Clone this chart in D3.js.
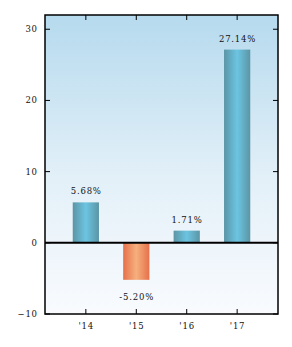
<!DOCTYPE html>
<html>
<head>
<meta charset="utf-8">
<script src="https://cdn.jsdelivr.net/npm/d3@7"></script>
<style>
  body { margin: 0; background: #fff; }
  text { font-family: "DejaVu Serif", serif; fill: #111; letter-spacing: 0.8px; }
</style>
</head>
<body>
<svg id="chart" width="292" height="347"></svg>
<script>
// dados
const years = ["'14", "'15", "'16", "'17"];
const returns = [5.68, -5.20, 1.71, 27.14];
const yTicks = [-10, 0, 10, 20, 30];

const W = 292, H = 347;
const margin = { top: 15, right: 14, bottom: 33, left: 45 };
const LS = 0.8; // letter-spacing, para compensar o alinhamento

const $svg = d3.select('#chart');
const defs = $svg.append('defs');

// fundo em degradê vertical
const bg = defs.append('linearGradient').attr('id', 'bg')
  .attr('x1', 0).attr('y1', 0).attr('x2', 0).attr('y2', 1);
bg.append('stop').attr('offset', '0%').attr('stop-color', '#b6daee');
bg.append('stop').attr('offset', '55%').attr('stop-color', '#e3f0f8');
bg.append('stop').attr('offset', '100%').attr('stop-color', '#f9fbfe');

// barras com degradê horizontal
function barGrad(id, edge, mid) {
  const g = defs.append('linearGradient').attr('id', id)
    .attr('x1', 0).attr('y1', 0).attr('x2', 1).attr('y2', 0);
  g.append('stop').attr('offset', '0%').attr('stop-color', edge);
  g.append('stop').attr('offset', '50%').attr('stop-color', mid);
  g.append('stop').attr('offset', '100%').attr('stop-color', edge);
}
barGrad('pos', '#5b95a5', '#6cc5e2');
barGrad('neg', '#e6704a', '#f6b07e');

const x = d3.scaleLinear().domain([-0.81, 3.81])
  .range([margin.left, W - margin.right]);
const y = d3.scaleLinear().domain([-10, 32])
  .range([H - margin.bottom, margin.top]);

const x0 = margin.left, x1 = W - margin.right;
const y0 = margin.top, y1 = H - margin.bottom;

$svg.append('rect')
  .attr('x', x0).attr('y', y0)
  .attr('width', x1 - x0).attr('height', y1 - y0)
  .attr('fill', 'url(#bg)');

const bw = x(0.26) - x(-0.26);

$svg.selectAll('rect.bar')
  .data(returns)
  .enter()
  .append('rect')
  .attr('class', 'bar')
  .attr('x', (d, i) => x(i) - bw / 2)
  .attr('y', d => y(Math.max(d, 0)))
  .attr('width', bw)
  .attr('height', d => Math.abs(y(d) - y(0)))
  .attr('fill', d => d >= 0 ? 'url(#pos)' : 'url(#neg)');

// rótulos das barras
$svg.selectAll('text.val')
  .data(returns)
  .enter()
  .append('text')
  .attr('class', 'val')
  .attr('x', (d, i) => x(i) + LS / 2)
  .attr('y', d => d >= 0 ? y(d) - 8 : y(d) + 20)
  .attr('text-anchor', 'middle')
  .attr('font-size', 8.5)
  .text(d => d.toFixed(2) + '%');

// linha do zero
$svg.append('line')
  .attr('x1', x0).attr('x2', x1)
  .attr('y1', y(0)).attr('y2', y(0))
  .attr('stroke', '#000').attr('stroke-width', 2);

// ticks internos
const tl = 5;
yTicks.forEach(t => {
  $svg.append('line').attr('x1', x0).attr('x2', x0 + tl)
    .attr('y1', y(t)).attr('y2', y(t)).attr('stroke', '#000');
  $svg.append('line').attr('x1', x1).attr('x2', x1 - tl)
    .attr('y1', y(t)).attr('y2', y(t)).attr('stroke', '#000');
  $svg.append('text')
    .attr('x', x0 - 8 + LS).attr('y', y(t) + 3)
    .attr('text-anchor', 'end')
    .attr('font-size', 8.5)
    .text(t < 0 ? '\u2212' + Math.abs(t) : t);
});

years.forEach((lbl, i) => {
  $svg.append('line').attr('x1', x(i)).attr('x2', x(i))
    .attr('y1', y0).attr('y2', y0 + tl).attr('stroke', '#000');
  $svg.append('line').attr('x1', x(i)).attr('x2', x(i))
    .attr('y1', y1).attr('y2', y1 - tl).attr('stroke', '#000');
  $svg.append('text')
    .attr('x', x(i) + LS / 2).attr('y', y1 + 15)
    .attr('text-anchor', 'middle')
    .attr('font-size', 8.5)
    .text(lbl);
});

// moldura
$svg.append('rect')
  .attr('x', x0).attr('y', y0)
  .attr('width', x1 - x0).attr('height', y1 - y0)
  .attr('fill', 'none').attr('stroke', '#000').attr('stroke-width', 1.5);
</script>
</body>
</html>
